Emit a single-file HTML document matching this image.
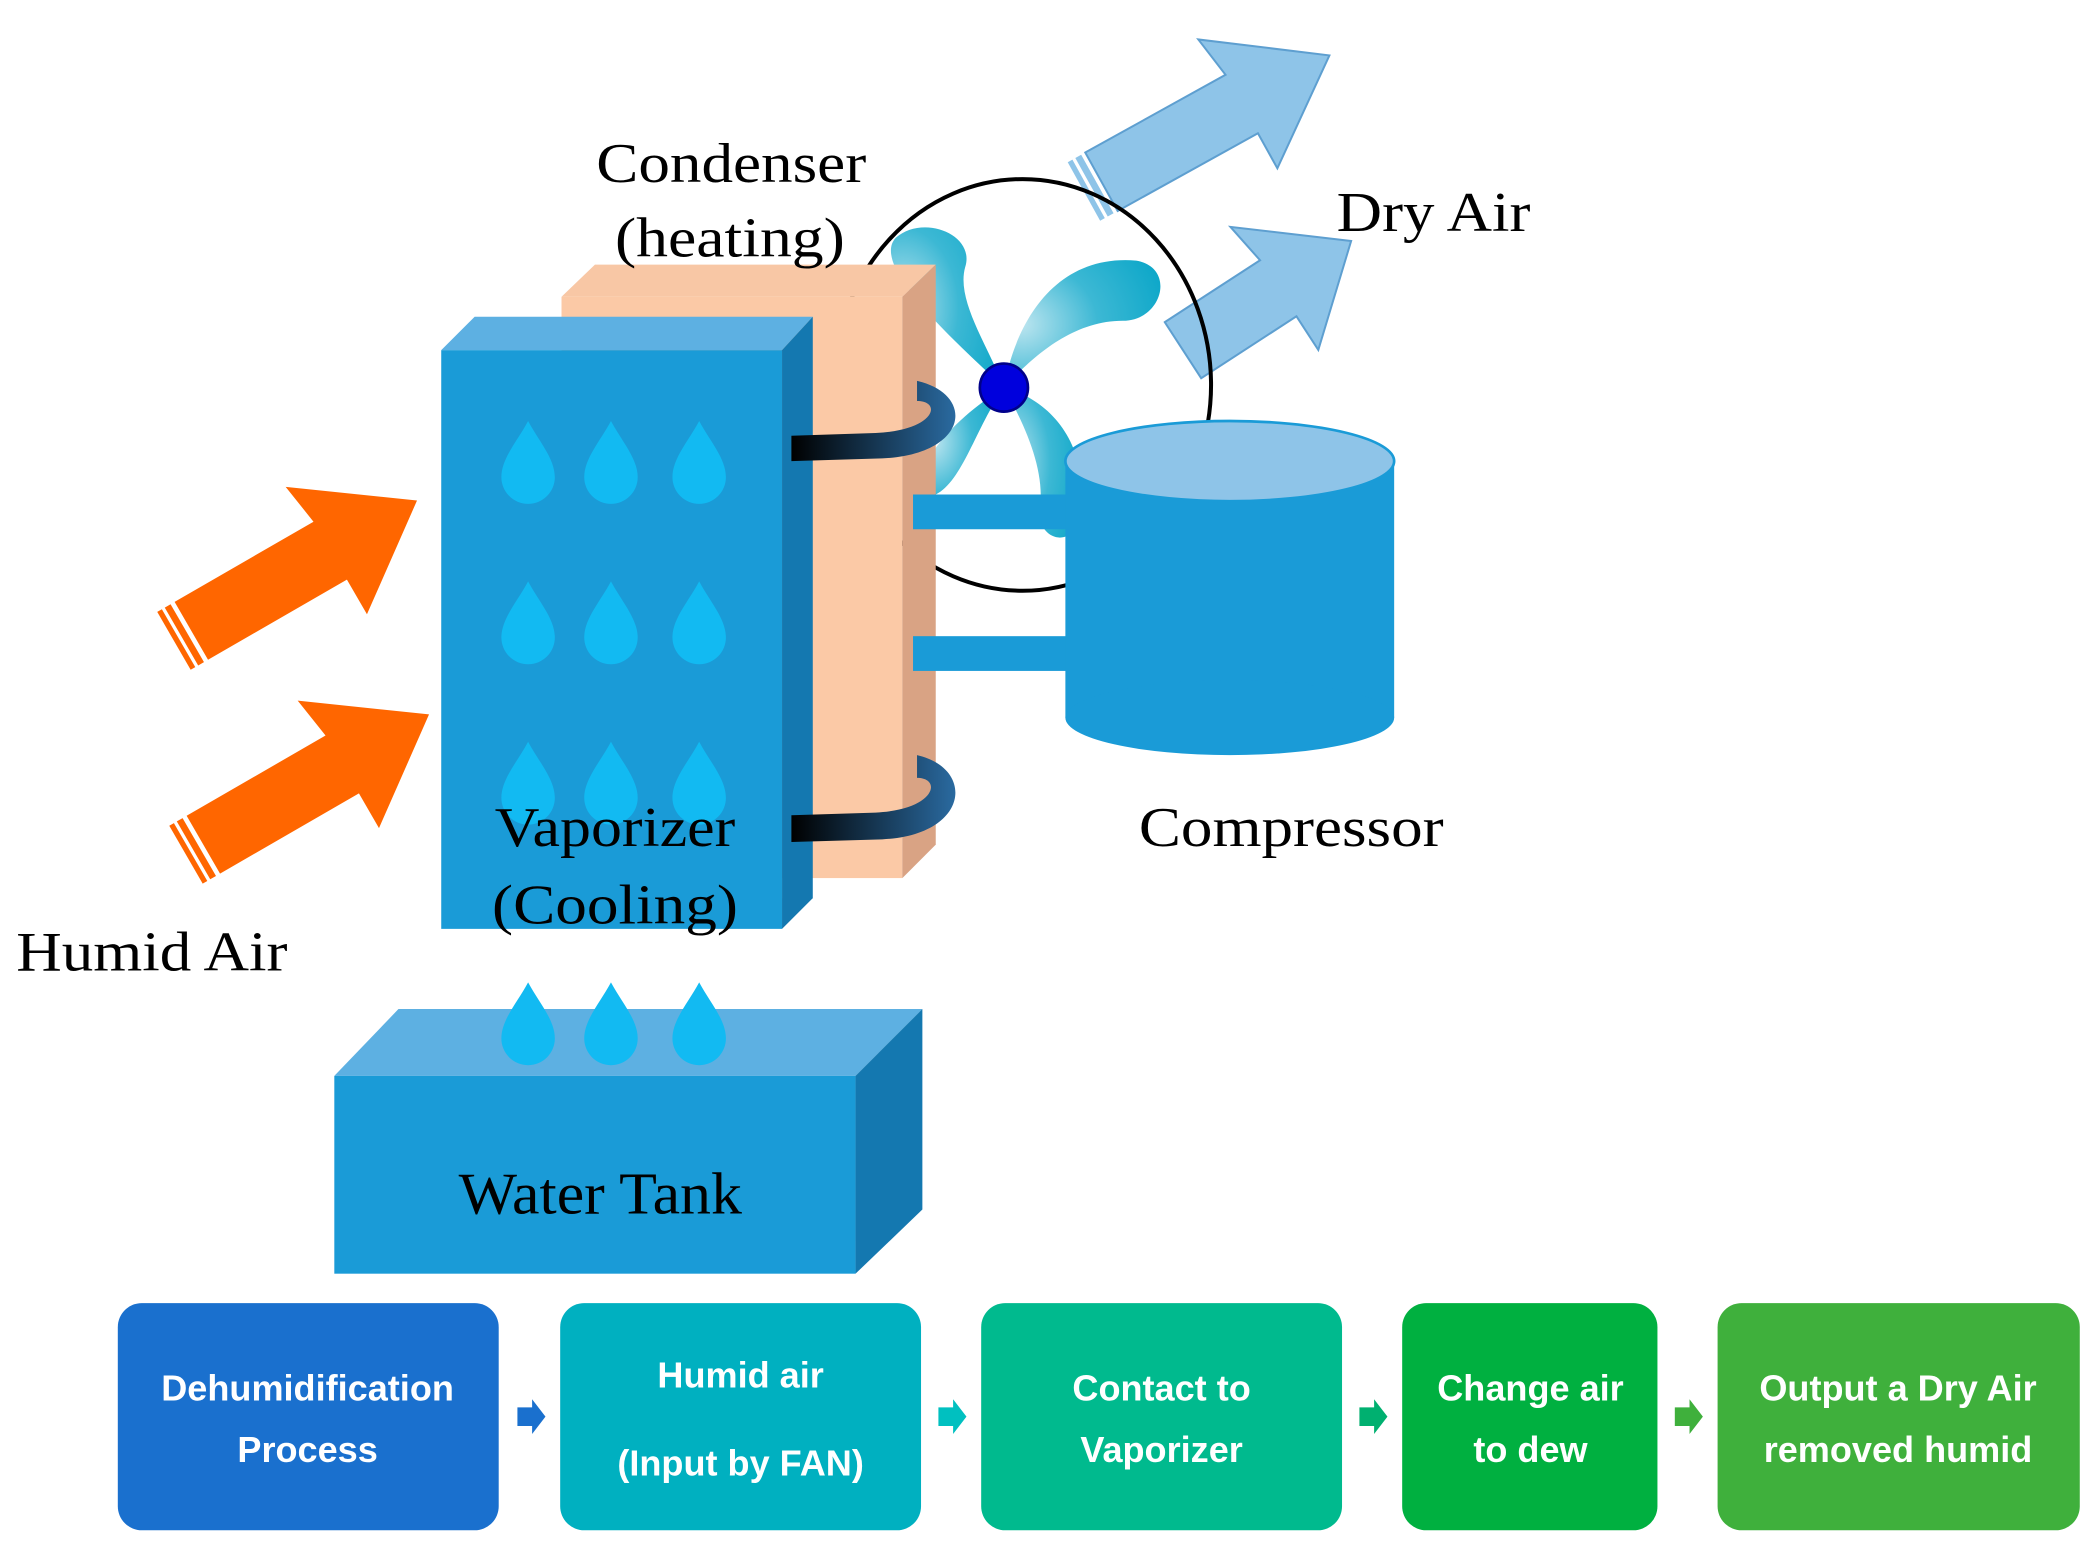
<!DOCTYPE html>
<html><head><meta charset="utf-8"><style>
html,body{margin:0;padding:0;background:#fff;}
svg{display:block;}
.s{font-family:"Liberation Serif",serif;fill:#000;}
.b{font-family:"Liberation Sans",sans-serif;font-weight:bold;fill:#fff;font-size:27px;}
</style></head><body>
<svg width="2092" height="1549" viewBox="0 0 1565 1159" xmlns="http://www.w3.org/2000/svg">
<defs>
<radialGradient id="bl" cx="0.1" cy="0.5" r="1"><stop offset="0" stop-color="#bfe6f0"/><stop offset="0.5" stop-color="#3cb8d4"/><stop offset="1" stop-color="#0aa6c8"/></radialGradient>
<linearGradient id="hk" x1="0" y1="0" x2="1" y2="0"><stop offset="0" stop-color="#000"/><stop offset="1" stop-color="#2a6aa0"/></linearGradient>
<g id="drop"><path d="M0,-30 C8,-15 20,-2 20,12 A20,20 0 0 1 -20,12 C-20,-2 -8,-15 0,-30Z" fill="#12baf2"/></g>
<g id="oarr"><polygon points="0,-25 120,-25 115,-58 195,0 120,55 120,25 0,25" fill="#ff6600"/>
<line x1="-6" y1="-25" x2="-6" y2="25" stroke="#ff6600" stroke-width="5"/><line x1="-13" y1="-25" x2="-13" y2="25" stroke="#ff6600" stroke-width="4"/></g>
<g id="barr"><polygon points="0,-25 120,-25 115,-58 195,0 120,55 120,25 0,25" fill="#8ec4e8" stroke="#5e9fd0" stroke-width="1.5"/>
<line x1="-6" y1="-25" x2="-6" y2="25" stroke="#8ec4e8" stroke-width="5"/><line x1="-13" y1="-25" x2="-13" y2="25" stroke="#8ec4e8" stroke-width="4"/></g>
</defs>

<use href="#barr" transform="translate(824,136) rotate(-29)"/>
<g transform="translate(885,262) rotate(-33)"><polygon points="0,-25 85,-25 80,-58 150,0 85,55 85,25 0,25" fill="#8ec4e8" stroke="#5e9fd0" stroke-width="1.5"/></g>

<ellipse cx="765" cy="288" rx="141" ry="154" fill="none" stroke="#000" stroke-width="3"/>
<path d="M751,290 C720,260 650,200 670,178 C690,160 730,175 722,200 C715,225 740,260 751,290Z" fill="url(#bl)"/>
<path d="M751,290 C760,240 790,190 850,195 C880,200 870,240 840,240 C800,240 770,270 751,290Z" fill="url(#bl)"/>
<path d="M751,290 C790,300 820,340 805,395 C795,410 775,400 778,380 C782,350 765,315 751,290Z" fill="url(#bl)"/>
<path d="M751,290 C730,320 720,360 700,370 C690,372 690,350 700,335 C715,315 735,300 751,290Z" fill="url(#bl)"/>

<polygon points="420,222 445,198 700,198 675,222" fill="#f8c7a5"/>
<rect x="420" y="222" width="255" height="435" fill="#fbc9a6"/>
<polygon points="675,222 700,198 700,632 675,657" fill="#d9a384"/>

<circle cx="751" cy="290" r="18" fill="#0000dd" stroke="#00008a" stroke-width="2"/>

<rect x="683" y="370" width="116" height="26" fill="#1a9bd7"/>
<rect x="683" y="476" width="116" height="26" fill="#1a9bd7"/>

<rect x="797" y="345" width="246" height="192" fill="#1a9bd7"/>
<ellipse cx="920" cy="537" rx="123" ry="28" fill="#1a9bd7"/>
<ellipse cx="920" cy="345" rx="123" ry="30" fill="#8ec4e8" stroke="#1a9bd7" stroke-width="2"/>

<polygon points="330,262 355,237 608,237 585,262" fill="#5db0e2"/>
<rect x="330" y="262" width="255" height="433" fill="#1a9bd7"/>
<polygon points="585,262 608,237 608,672 585,695" fill="#1478b0"/>
<use href="#drop" transform="translate(395,345)"/><use href="#drop" transform="translate(457,345)"/><use href="#drop" transform="translate(523,345)"/>
<use href="#drop" transform="translate(395,465)"/><use href="#drop" transform="translate(457,465)"/><use href="#drop" transform="translate(523,465)"/>
<use href="#drop" transform="translate(395,585)"/><use href="#drop" transform="translate(457,585)"/><use href="#drop" transform="translate(523,585)"/>

<path d="M686,285 C730,295 725,340 660,343 L592,345 L592,326 L655,324 C700,322 705,300 686,300Z" fill="url(#hk)"/>
<path d="M686,565 C730,575 725,625 660,628 L592,630 L592,610 L655,608 C700,606 705,582 686,582Z" fill="url(#hk)"/>

<use href="#oarr" transform="translate(143,472) rotate(-30)"/>
<use href="#oarr" transform="translate(152,632) rotate(-30)"/>

<polygon points="250,805 298,755 690,755 640,805" fill="#5db0e2"/>
<rect x="250" y="805" width="390" height="148" fill="#1a9bd7"/>
<polygon points="640,805 690,755 690,905 640,953" fill="#1478b0"/>
<use href="#drop" transform="translate(395,765)"/><use href="#drop" transform="translate(457,765)"/><use href="#drop" transform="translate(523,765)"/>

<text class="s" x="446" y="136" font-size="42" textLength="202" lengthAdjust="spacingAndGlyphs">Condenser</text>
<text class="s" x="460" y="192" font-size="42" textLength="172" lengthAdjust="spacingAndGlyphs">(heating)</text>
<text class="s" x="1000" y="173" font-size="42" textLength="145" lengthAdjust="spacingAndGlyphs">Dry Air</text>
<text class="s" x="852" y="633" font-size="42" textLength="228" lengthAdjust="spacingAndGlyphs">Compressor</text>
<text class="s" x="370" y="633" font-size="42" textLength="180" lengthAdjust="spacingAndGlyphs">Vaporizer</text>
<text class="s" x="368" y="691" font-size="42" textLength="184" lengthAdjust="spacingAndGlyphs">(Cooling)</text>
<text class="s" x="12" y="726" font-size="42" textLength="203" lengthAdjust="spacingAndGlyphs">Humid Air</text>
<text class="s" x="343" y="908" font-size="44" textLength="212" lengthAdjust="spacingAndGlyphs">Water Tank</text>

<rect x="88" y="975" width="285" height="170" rx="18" fill="#1a70ce"/>
<rect x="419" y="975" width="270" height="170" rx="18" fill="#00b0c0"/>
<rect x="734" y="975" width="270" height="170" rx="18" fill="#00ba8e"/>
<rect x="1049" y="975" width="191" height="170" rx="18" fill="#00b040"/>
<rect x="1285" y="975" width="271" height="170" rx="18" fill="#3fb03c"/>
<polygon points="387,1053 398,1053 398,1047 408,1060 398,1073 398,1067 387,1067" fill="#1a70ce"/>
<polygon points="702,1053 713,1053 713,1047 723,1060 713,1073 713,1067 702,1067" fill="#00c0c0"/>
<polygon points="1017,1053 1028,1053 1028,1047 1038,1060 1028,1073 1028,1067 1017,1067" fill="#00b070"/>
<polygon points="1253,1053 1264,1053 1264,1047 1274,1060 1264,1073 1264,1067 1253,1067" fill="#3fb03c"/>
<text class="b" x="230" y="1048" text-anchor="middle">Dehumidification</text>
<text class="b" x="230" y="1094" text-anchor="middle">Process</text>
<text class="b" x="554" y="1038" text-anchor="middle">Humid air</text>
<text class="b" x="554" y="1104" text-anchor="middle">(Input by FAN)</text>
<text class="b" x="869" y="1048" text-anchor="middle">Contact to</text>
<text class="b" x="869" y="1094" text-anchor="middle">Vaporizer</text>
<text class="b" x="1145" y="1048" text-anchor="middle">Change air</text>
<text class="b" x="1145" y="1094" text-anchor="middle">to dew</text>
<text class="b" x="1420" y="1048" text-anchor="middle">Output a Dry Air</text>
<text class="b" x="1420" y="1094" text-anchor="middle">removed humid</text>
</svg>
</body></html>
